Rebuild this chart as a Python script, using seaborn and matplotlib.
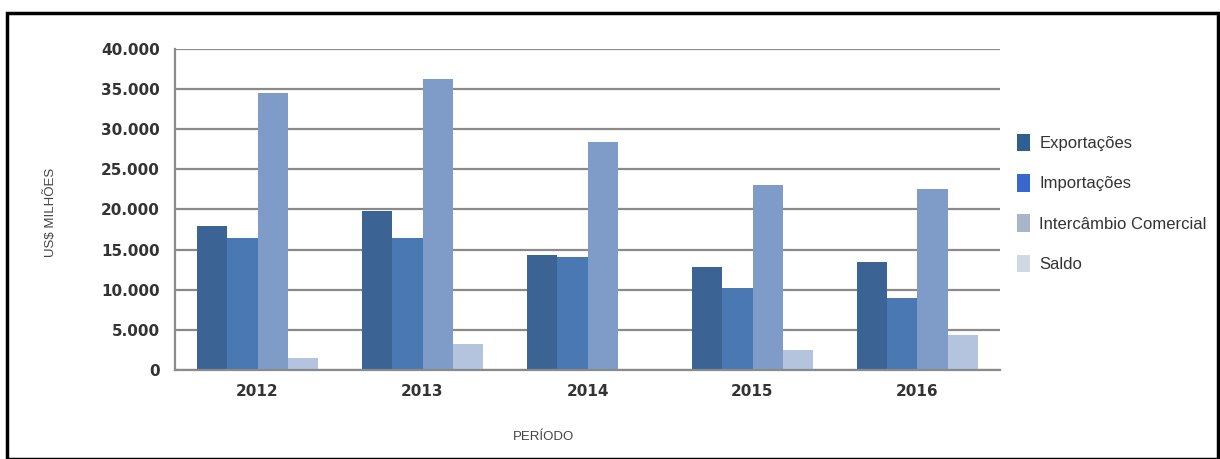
import pandas as pd
import numpy as np
import matplotlib.pyplot as plt
import seaborn as sns
from matplotlib.patches import Patch, Rectangle
from matplotlib.ticker import FuncFormatter, MultipleLocator

# Data (US$ milhões)
anos = ['2012', '2013', '2014', '2015', '2016']
exportacoes = [18000, 19800, 14300, 12800, 13400]
importacoes = [16400, 16400, 14100, 10200, 9000]
intercambio = [34500, 36200, 28400, 23100, 22500]
saldo = [1500, 3300, 0, 2500, 4300]

series = ['Exportações', 'Importações', 'Intercâmbio Comercial', 'Saldo']
bar_colors = ['#3b6495', '#4a78b3', '#7f9cc9', '#b4c3de']
legend_colors = ['#2f5f91', '#3a66cf', '#a9b5c9', '#d0d8e3']

df = pd.DataFrame({'ano': anos, 'Exportações': exportacoes, 'Importações': importacoes,
                   'Intercâmbio Comercial': intercambio, 'Saldo': saldo})
long_df = df.melt(id_vars='ano', var_name='serie', value_name='valor')

sns.set_style('white')
plt.rcParams['font.family'] = ['Liberation Sans', 'DejaVu Sans']

fig = plt.figure(figsize=(12.2, 4.59), dpi=100)
ax = fig.add_axes([175 / 1220, 1 - 370 / 459, 825 / 1220, 321 / 459])

sns.barplot(data=long_df, x='ano', y='valor', hue='serie', hue_order=series,
            palette=bar_colors, saturation=1, width=0.73, linewidth=0, ax=ax, legend=False)

ax.set_ylim(0, 40000)
ax.yaxis.set_major_locator(MultipleLocator(5000))
ax.yaxis.set_major_formatter(FuncFormatter(lambda v, p: f'{int(v):,}'.replace(',', '.')))
ax.grid(axis='y', color='#8a8a8a', linewidth=1.6)
ax.set_axisbelow(True)
for s in ['top', 'right']:
    ax.spines[s].set_visible(False)
ax.spines['left'].set_color('#8a8a8a')
ax.spines['bottom'].set_color('#8a8a8a')
ax.spines['left'].set_linewidth(1.6)
ax.spines['bottom'].set_linewidth(1.6)

ax.tick_params(axis='y', length=5, color='#8a8a8a', width=1.6, pad=6,
               labelsize=11, labelcolor='#333333')
ax.tick_params(axis='x', length=0, pad=10, labelsize=11, labelcolor='#333333')
for lbl in ax.get_xticklabels() + ax.get_yticklabels():
    lbl.set_fontweight('bold')
    lbl.set_family('DejaVu Sans')

ax.set_ylabel('US$ MILHÕES', fontsize=9.5, color='#444444')
ax.set_xlabel('PERÍODO', fontsize=9.5, color='#444444')
ax.yaxis.set_label_coords(-0.143, 0.49)
ax.xaxis.set_label_coords(0.447, -0.19)

handles = [Patch(facecolor=c, edgecolor='none') for c in legend_colors]
fig.legend(handles, series, loc='center left', bbox_to_anchor=(1017 / 1220, 1 - 203 / 459),
           frameon=False, fontsize=12, borderpad=0, borderaxespad=0,
           handlelength=0.78, handleheight=1.25, handletextpad=0.55, labelspacing=1.36,
           labelcolor='#333333')

# outer frame
fig.patches.append(Rectangle((7 / 1220, 0), 1211 / 1220, 1 - 13 / 459, transform=fig.transFigure,
                             fill=False, edgecolor='black', linewidth=2.5, clip_on=False))

fig.savefig('out.png', dpi=100)
